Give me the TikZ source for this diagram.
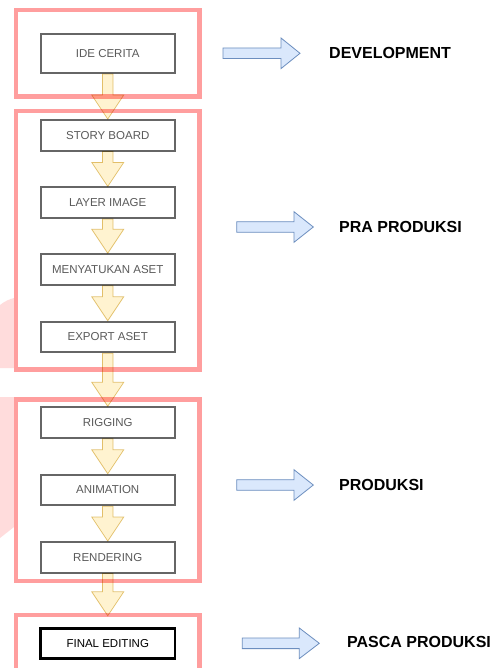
\documentclass[tikz,border=0pt]{standalone}
\usepackage{fontspec}
\setmainfont{Liberation Sans}
\usetikzlibrary{calc}

\definecolor{phasepink}{HTML}{FF9E9E}
\definecolor{markpink}{HTML}{FFDCDC}
\definecolor{boxgray}{HTML}{666666}
\definecolor{boxtext}{HTML}{5A5A5A}
\definecolor{flowfill}{HTML}{FFF3D0}
\definecolor{flowline}{HTML}{E2C678}
\definecolor{sidefill}{HTML}{DAE8FC}
\definecolor{sideline}{HTML}{6C8EBF}

\tikzset{
  phase/.style={draw=phasepink, line width=4.5pt, fill=white, inner sep=0pt,
    minimum width=183.5pt},
  stepbox/.style={draw=boxgray, line width=2pt, fill=white, inner sep=0pt,
    minimum width=134.5pt, minimum height=30.5pt, text=boxtext,
    font=\fontsize{11.5}{13}\selectfont},
  finalbox/.style={stepbox, draw=black, line width=2.8pt, text=black},
  phaselabel/.style={anchor=west, inner sep=0pt, font=\fontsize{16}{19}\selectfont\bfseries},
  flowarrow/.style={fill=flowfill, draw=flowline, line width=0.7pt, line join=miter},
  sidearrow/.style={fill=sidefill, draw=sideline, line width=0.8pt, line join=miter}
}

% block arrow pointing down from the bottom of #1 to the point #2
\newcommand\stepflow[2]{%
  \draw[flowarrow] let \p1=(#1.south), \p2=(#2) in
    (\x1-5.3pt,\y1) -- (\x1-5.3pt,\y2+24pt) -- (\x1-16pt,\y2+24pt) -- (\x1,\y2)
    -- (\x1+16pt,\y2+24pt) -- (\x1+5.3pt,\y2+24pt) -- (\x1+5.3pt,\y1) -- cycle;}

% block arrow pointing right: tail x, head base x, tip x, centre y
\newcommand\sidepointer[4]{%
  \draw[sidearrow] (#1,#4-5.3) -- (#2,#4-5.3) -- (#2,#4-15.3) -- (#3,#4)
    -- (#2,#4+15.3) -- (#2,#4+5.3) -- (#1,#4+5.3) -- cycle;}

\begin{document}
\begin{tikzpicture}[x=1pt, y=-1pt]
\clip (0,0) rectangle (497,668);
\fill[white] (0,0) rectangle (497,668);

% faint background mark on the left edge
\fill[markpink] (0,305) .. controls (5,301) and (10,299) .. (14,298) -- (14,368) -- (0,368) -- cycle;
\fill[markpink] (0,397) -- (14,397) -- (14,527) -- (0,538) -- cycle;

% phase frames
\node[phase, minimum height=86.5pt] (f1) at (107.75,53.25) {};
\node[phase, minimum height=258.5pt] (f2) at (107.75,240.25) {};
\node[phase, minimum height=181.5pt] (f3) at (107.75,490.25) {};
\node[phase, minimum height=80pt] (f4) at (107.75,655) {};

% process steps
\node[stepbox, minimum height=39pt] (ide) at (107.75,53.5) {IDE CERITA};
\node[stepbox] (story) at (107.75,135.3) {STORY BOARD};
\node[stepbox] (layer) at (107.75,202.7) {LAYER IMAGE};
\node[stepbox] (aset) at (107.75,269.5) {MENYATUKAN ASET};
\node[stepbox] (export) at (107.75,337) {EXPORT ASET};
\node[stepbox] (rig) at (107.75,422.5) {RIGGING};
\node[stepbox] (anim) at (107.75,490) {ANIMATION};
\node[stepbox] (render) at (107.75,557.3) {RENDERING};
\node[finalbox] (final) at (107.75,643.5) {FINAL EDITING};

% flow between steps
\begin{scope}[blend mode=multiply]
\stepflow{ide}{story.north}
\stepflow{story}{layer.north}
\stepflow{layer}{aset.north}
\stepflow{aset}{export.north}
\stepflow{export}{rig.north}
\stepflow{rig}{anim.north}
\stepflow{anim}{render.north}
\stepflow{render}{$(f4.north)+(0,3)$}
\end{scope}

% phase names
\sidepointer{223}{281}{300}{53.3}
\sidepointer{236.7}{294}{313.3}{227}
\sidepointer{236.7}{294}{313.3}{485}
\sidepointer{242.3}{299.3}{319.3}{643.3}

\node[phaselabel] (dev) at (329,53.3) {DEVELOPMENT};
\node[phaselabel] (pra) at (339,227) {PRA PRODUKSI};
\node[phaselabel] (prod) at (339,485) {PRODUKSI};
\node[phaselabel] (pasca) at (347,642) {PASCA PRODUKSI};
\end{tikzpicture}
\end{document}
